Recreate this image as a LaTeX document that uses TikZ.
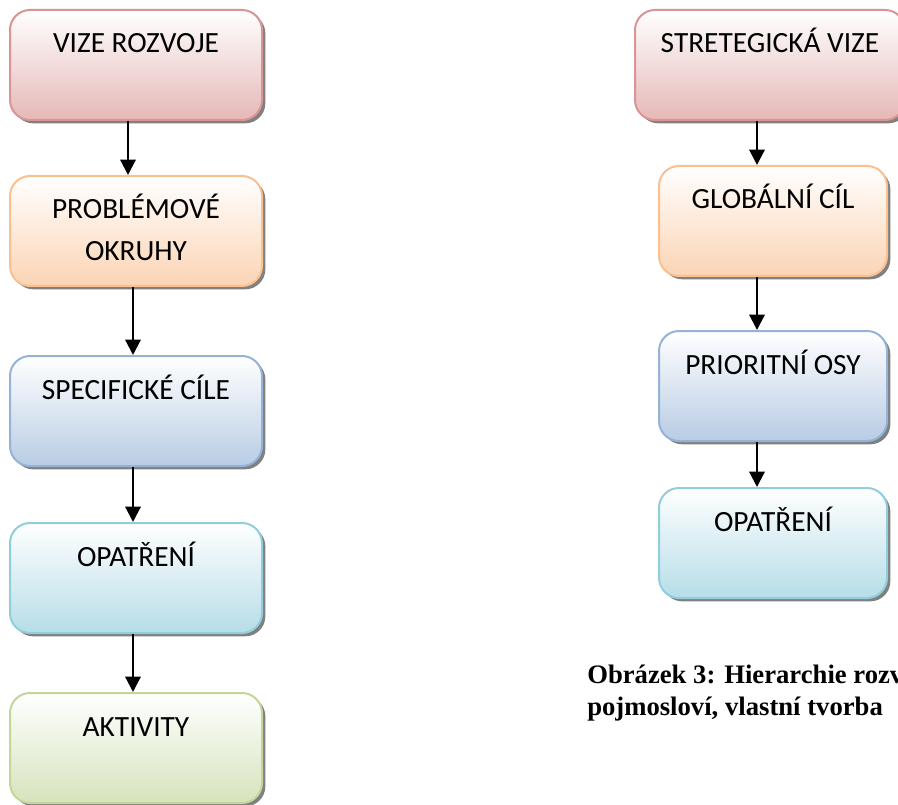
\documentclass[tikz,border=0pt]{standalone}
\usepackage{fontspec}
\setmainfont{Carlito}
\newfontfamily\capfont{Liberation Serif}
\usetikzlibrary{arrows.meta,shadows}

\definecolor{redline}{RGB}{217,149,148}
\definecolor{redfill}{RGB}{229,184,183}
\definecolor{orangeline}{RGB}{250,192,144}
\definecolor{orangefill}{RGB}{251,212,180}
\definecolor{blueline}{RGB}{149,179,215}
\definecolor{bluefill}{RGB}{184,204,228}
\definecolor{aqualine}{RGB}{146,205,220}
\definecolor{aquafill}{RGB}{182,221,232}
\definecolor{greenline}{RGB}{194,214,155}
\definecolor{greenfill}{RGB}{214,227,188}

\newcommand\boxfont{\fontsize{22pt}{31.5pt}\selectfont}

\tikzset{
  box/.style={rectangle, rounded corners=15pt, line width=1.5pt, draw=#1line,
    top color=white, bottom color=#1fill,
    minimum width=189pt, minimum height=82.5pt,
    drop shadow={shadow xshift=2.5pt, shadow yshift=-2.5pt, fill=black!50, opacity=1}},
  lbl/.style={anchor=base, yshift=-33pt, inner sep=0pt, align=center, font=\boxfont},
  arr/.style={line width=1.6pt, -{Triangle[width=11.5pt,length=11.5pt]}}
}

\begin{document}
\begin{tikzpicture}[x=0.75pt,y=-0.75pt]
  \useasboundingbox (0,0) rectangle (898,805);
  % left column
  \node[box=red] (vize) at (136,65) {};
  \node[box=orange] (okruhy) at (136,231) {};
  \node[box=blue] (cile) at (136,411) {};
  \node[box=aqua] (opatreni) at (136,578) {};
  \node[box=green] (aktivity) at (136,748) {};
  \path node[lbl] at (vize.north) {VIZE ROZVOJE}
        node[lbl, yshift=-31.5pt] at (okruhy.north) {PROBLÉMOVÉ\\OKRUHY}
        node[lbl] at (cile.north) {SPECIFICKÉ CÍLE}
        node[lbl] at (opatreni.north) {OPATŘENÍ}
        node[lbl] at (aktivity.north) {AKTIVITY};
  % right column
  \node[box=red, minimum width=202.5pt] (strvize) at (770,65) {};
  \node[box=orange, minimum width=171pt] (glcil) at (773,221) {};
  \node[box=blue, minimum width=171pt] (osy) at (773,386) {};
  \node[box=aqua, minimum width=171pt] (ropatreni) at (773,543) {};
  \path node[lbl] at (strvize.north) {STRETEGICKÁ VIZE}
        node[lbl] at (glcil.north) {GLOBÁLNÍ CÍL}
        node[lbl] at (osy.north) {PRIORITNÍ OSY}
        node[lbl] at (ropatreni.north) {OPATŘENÍ};
  \node[anchor=base west, inner sep=0pt, align=left,
    font={\capfont\bfseries\fontsize{20pt}{24pt}\selectfont}] (popis) at (587,715)
    {Obrázek 3: Hierarchie rozv\\pojmosloví, vlastní tvorba};
  \begin{scope}[arr]
    \draw ([xshift=-6pt]vize.south) to ([xshift=-6pt]okruhy.north);
    \draw ([xshift=-2.25pt]okruhy.south) to ([xshift=-2.25pt]cile.north);
    \draw ([xshift=-2.25pt]cile.south) to ([xshift=-2.25pt]opatreni.north);
    \draw ([xshift=-2.25pt]opatreni.south) to ([xshift=-2.25pt]aktivity.north);
    \draw ([xshift=-12pt]glcil.north |- strvize.south) to ([xshift=-12pt]glcil.north);
    \draw ([xshift=-12pt]glcil.south) to ([xshift=-12pt]osy.north);
    \draw ([xshift=-12pt]osy.south) to ([xshift=-12pt]ropatreni.north);
  \end{scope}
\end{tikzpicture}
\end{document}
